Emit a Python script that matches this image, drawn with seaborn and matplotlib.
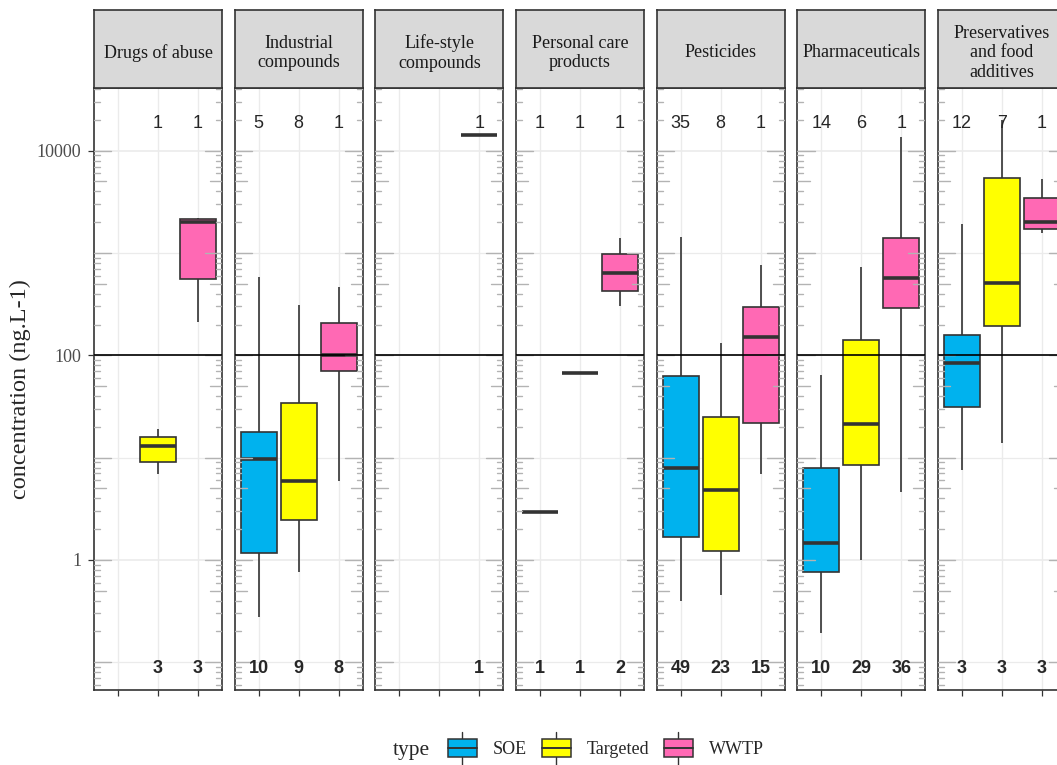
import numpy as np
import pandas as pd
import matplotlib
matplotlib.use("Agg")
import matplotlib.pyplot as plt
import seaborn as sns
from matplotlib.legend_handler import HandlerBase
from matplotlib.patches import Patch, Rectangle
from matplotlib.lines import Line2D
from matplotlib.ticker import NullFormatter

# facets, in order
facets = ["Drugs of abuse", "Industrial\ncompounds", "Life-style\ncompounds",
          "Personal care\nproducts", "Pesticides", "Pharmaceuticals",
          "Preservatives\nand food\nadditives"]
types = ["SOE", "Targeted", "WWTP"]

# five-number summaries (ng/L): low whisker, q1, median, q3, high whisker
soe_summary = [
    None,
    [0.279, 1.18, 9.76, 17.7, 579],
    None,
    [2.94],
    [0.397, 1.66, 7.86, 62.8, 1443],
    [0.194, 0.767, 1.45, 7.86, 64.6],
    [7.62, 31.0, 84.1, 158, 1920],
]
targeted_summary = [
    [6.9, 9.0, 13.0, 16.0, 18.9],
    [0.767, 2.45, 5.95, 34.4, 308],
    None,
    [67.6],
    [0.457, 1.21, 4.79, 25.1, 131],
    [0.99, 8.47, 21.2, 141, 735],
    [13.8, 195, 509, 5370, 20000],
]
wwtp_summary = [
    [211, 561, 2024, 2135, 2183],
    [5.95, 70.3, 100, 208, 469],
    [14230],
    [303, 425, 642, 971, 1393],
    [6.87, 21.8, 152, 299, 763],
    [4.64, 288, 566, 1402, 13700],
    [1567, 1729, 1995, 3473, 5330],
]

# counts shown above (compounds) and below (bold) each box
top_counts = [[None, 1, 1], [5, 8, 1], [None, None, 1], [1, 1, 1],
              [35, 8, 1], [14, 6, 1], [12, 7, 1]]
bottom_counts = [[None, 3, 3], [10, 9, 8], [None, None, 1], [1, 1, 2],
                 [49, 23, 15], [10, 29, 36], [3, 3, 3]]

colors = {"SOE": "#00B2EE", "Targeted": "#FFFF00", "WWTP": "#FF69B4"}

rows = []
for f, facet in enumerate(facets):
    for t, summ in zip(types, [soe_summary, targeted_summary, wwtp_summary]):
        if summ[f] is None:
            continue
        for v in summ[f]:
            rows.append({"facet": facet, "type": t, "value": v})
df = pd.DataFrame(rows)

sns.set_style("white")
plt.rcParams["font.family"] = ["Liberation Serif", "DejaVu Serif"]

W, H = 1057, 765
fig = plt.figure(figsize=(W / 100, H / 100), dpi=100)


def px(x0, y0, w, h):
    return [x0 / W, 1 - (y0 + h) / H, w / W, h / H]


class BoxHandler(HandlerBase):
    def create_artists(self, legend, orig_handle, xdescent, ydescent,
                       width, height, fontsize, trans):
        cy = height / 2 - ydescent
        x0 = -xdescent
        cx = x0 + width / 2
        bh = 6.5
        ec = "#333333"
        w1 = Line2D([cx, cx], [cy + bh, cy + bh + 5.5], color=ec, lw=1.0, transform=trans)
        w2 = Line2D([cx, cx], [cy - bh - 5.5, cy - bh], color=ec, lw=1.0, transform=trans)
        rect = Rectangle((x0, cy - bh), width, 2 * bh,
                         facecolor=orig_handle.get_facecolor(), edgecolor=ec,
                         lw=1.1, transform=trans)
        med = Line2D([x0, x0 + width], [cy, cy], color=ec, lw=1.4, transform=trans)
        return [w1, w2, rect, med]


edge = "#333333"
step = 140.67
for f, facet in enumerate(facets):
    left = 94 + f * step
    ax = fig.add_axes(px(left, 88, 128, 602))
    ax.set_yscale("log")
    sub = df[df["facet"] == facet]
    sns.boxplot(data=sub, x="type", y="value", hue="type", order=types,
                hue_order=types, palette=colors, saturation=1, width=0.9,
                whis=(0, 100), linewidth=1.2, linecolor=edge,
                medianprops={"linewidth": 2.6}, capprops={"visible": False},
                legend=False, ax=ax)
    ax.set_xlim(-0.6, 2.6)
    ax.set_ylim(0.0535, 41000)
    ax.set_xlabel("")
    ax.set_ylabel("")
    ax.set_xticks([0, 1, 2])
    ax.set_xticklabels([])
    ax.set_yticks([1, 100, 10000])
    ax.set_yticklabels(["1", "100", "10000"])
    ax.set_yticks([0.1, 10, 1000], minor=True)
    ax.yaxis.set_minor_formatter(NullFormatter())
    ax.set_axisbelow(True)
    ax.yaxis.grid(True, which="major", color="#EBEBEB", lw=1.2)
    ax.yaxis.grid(True, which="minor", color="#EBEBEB", lw=0.9)
    ax.xaxis.grid(True, which="major", color="#EBEBEB", lw=1.0)
    ax.tick_params(axis="x", length=4.5, width=0.9, color=edge, bottom=True)
    ax.tick_params(axis="y", which="minor", length=0)
    if f == 0:
        ax.tick_params(axis="y", which="major", length=4.5, width=0.9,
                       color=edge, labelsize=13, labelcolor="#4D4D4D", pad=4.5, left=True)
    else:
        ax.tick_params(axis="y", which="both", left=False, labelleft=False)
    for s in ax.spines.values():
        s.set_color(edge)
        s.set_linewidth(1.2)

    # log ticks on both sides
    ytr = ax.get_yaxis_transform()
    for k in range(-2, 5):
        for m in range(1, 10):
            v = m * 10.0 ** k
            ln = 0.135 if m == 1 else (0.095 if m == 5 else 0.047)
            ax.plot([0, ln], [v, v], color="#B3B3B3", lw=1.0, transform=ytr, zorder=6)
            ax.plot([1 - ln, 1], [v, v], color="#B3B3B3", lw=1.0, transform=ytr, zorder=6)

    ax.axhline(100, color="black", lw=1.2, zorder=7)

    for i in range(3):
        if top_counts[f][i] is not None:
            ax.text(i, 18450, str(top_counts[f][i]), ha="center", va="center",
                    family="Liberation Sans", fontsize=13, zorder=8)
        if bottom_counts[f][i] is not None:
            ax.text(i, 0.0871, str(bottom_counts[f][i]), ha="center", va="center",
                    family="Liberation Sans", fontsize=13, fontweight="bold", zorder=8)

    sax = fig.add_axes(px(left, 10, 128, 78))
    sax.set_facecolor("#D9D9D9")
    sax.set_xticks([])
    sax.set_yticks([])
    for s in sax.spines.values():
        s.set_color(edge)
        s.set_linewidth(1.2)
    sax.text(0.5, 0.45, facet, ha="center", va="center", fontsize=13,
             color="#1A1A1A", linespacing=1.2, transform=sax.transAxes)

fig.text(20 / W, 1 - 389 / H, "concentration (ng.L-1)", rotation=90,
         ha="center", va="center", fontsize=17.5)

fig.text(393 / W, 1 - 751 / H, "type", ha="left", va="center", fontsize=15.5)
handles = [Patch(facecolor=colors[t], edgecolor=edge) for t in types]
fig.legend(handles, types, loc="center", bbox_to_anchor=(606 / W, 1 - 750 / H),
           ncol=3, frameon=False, handler_map={Patch: BoxHandler()},
           handlelength=1.6, handletextpad=0.9, columnspacing=0.8, fontsize=13)

fig.savefig("out.png", dpi=100)
